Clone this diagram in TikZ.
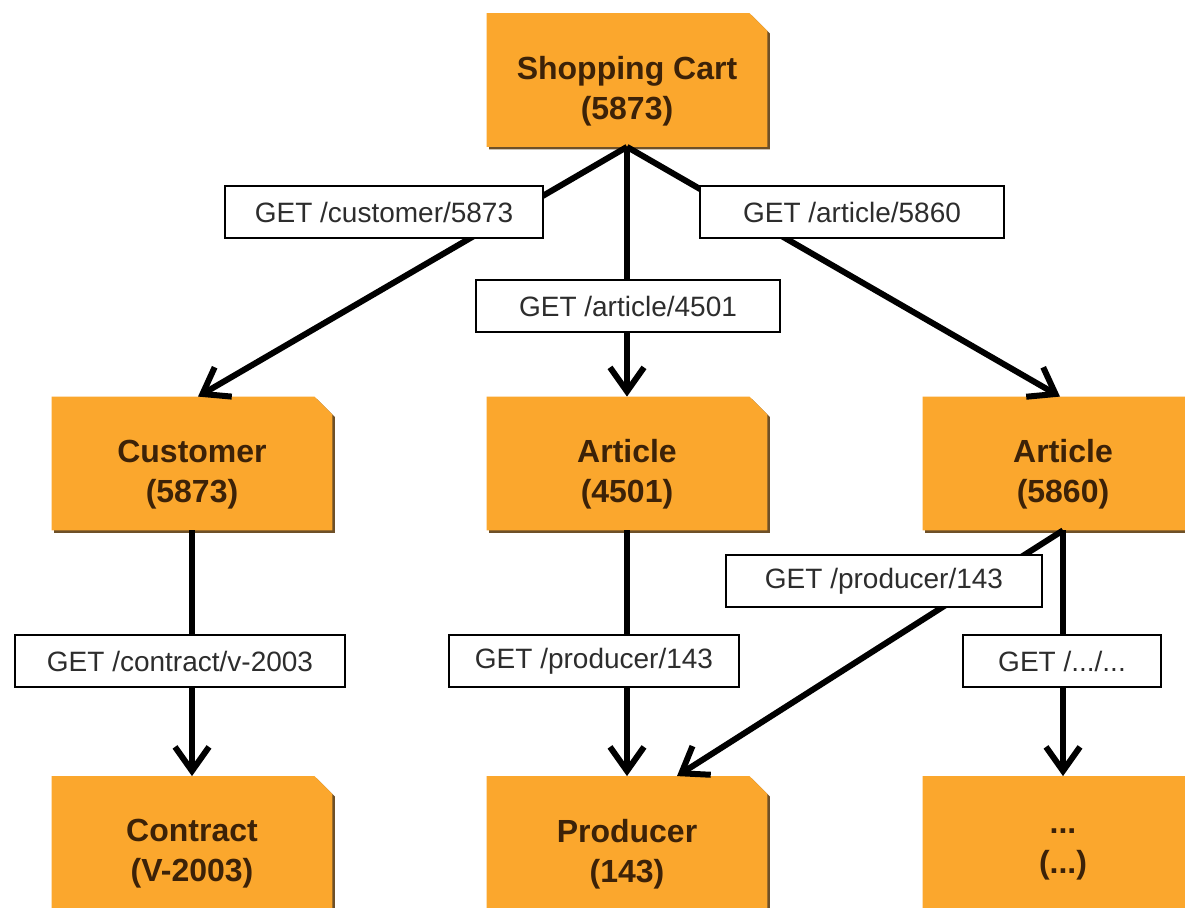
\documentclass[tikz,border=0pt]{standalone}
\usepackage{fontspec}
\setmainfont{Liberation Sans}
\usetikzlibrary{arrows.meta}
\definecolor{boxorange}{RGB}{251,167,45}
\definecolor{boxshade}{RGB}{110,80,40}
\definecolor{boxtext}{RGB}{60,34,8}
\definecolor{lbltext}{RGB}{45,45,45}
\tikzset{
  boxn/.style={inner sep=0pt, minimum width=140pt, minimum height=66.5pt},
  boxtxt/.style={inner sep=0pt, align=center, text=boxtext,
    font=\fontsize{16}{20}\selectfont\bfseries},
  lbl/.style={draw=black, line width=1pt, fill=white, inner sep=0pt,
    minimum height=26pt, text=lbltext, font=\fontsize{14}{16}\selectfont},
  conn/.style={line width=3pt, -{Straight Barb[length=12pt,width=17pt]}}
}
\begin{document}
\begin{tikzpicture}[x=0.5pt,y=-0.5pt]
\useasboundingbox (0,0) rectangle (1185,908);
\clip (0,0) rectangle (1185,908);
\fill[white] (0,0) rectangle (1185,908);

\node[boxn] (sc) at (627,80) {};
\node[boxn] (cust) at (192,463.5) {};
\node[boxn] (art1) at (627,463.5) {};
\node[boxn] (art2) at (1063,463.5) {};
\node[boxn] (contr) at (192,843) {};
\node[boxn] (prod) at (627,843) {};
\node[boxn] (dots) at (1063,843) {};

\foreach \n in {sc,cust,art1,art2,contr,prod,dots}{
  \fill[boxshade] ([shift={(1.2pt,-1.2pt)}]\n.south west) -- ([shift={(1.2pt,-1.2pt)}]\n.north west)
     -- ([shift={(-7.8pt,-1.2pt)}]\n.north east) -- ([shift={(1.2pt,-10.2pt)}]\n.north east)
     -- ([shift={(1.2pt,-1.2pt)}]\n.south east) -- cycle;
  \fill[boxorange] (\n.south west) -- (\n.north west) -- ([xshift=-9pt]\n.north east)
     -- ([yshift=-9pt]\n.north east) -- (\n.south east) -- cycle;
}

\node[boxtxt] (sct) at ([yshift=-5.5pt]sc.center) {Shopping Cart\\(5873)};
\node[boxtxt] (custt) at ([yshift=-5.5pt]cust.center) {Customer\\(5873)};
\node[boxtxt] (art1t) at ([yshift=-5.5pt]art1.center) {Article\\(4501)};
\node[boxtxt] (art2t) at ([yshift=-5.5pt]art2.center) {Article\\(5860)};
\node[boxtxt] (contrt) at ([yshift=-5.5pt]contr.center) {Contract\\(V-2003)};
\node[boxtxt] (prodt) at ([yshift=-5.5pt]prod.center) {Producer\\(143)};
\node[boxtxt] (dotst) at ([yshift=-5.5pt]dots.center) {...\\(...)};

\draw[conn] (sc.south) -- ([xshift=3pt]cust.north);
\draw[conn] (sc.south) -- (art1.north);
\draw[conn] (sc.south) -- ([xshift=-1.5pt]art2.north);
\draw[conn] (cust.south) -- (contr.north);
\draw[conn] (art1.south) -- (prod.north);
\draw[conn] (art2.south) -- (dots.north);
\draw[conn] (art2.south) -- ([xshift=25pt]prod.north);

\node[lbl, minimum width=159pt] (l1) at (384,212) {GET /customer/5873};
\node[lbl, minimum width=152pt] (l2) at (852,212) {GET /article/5860};
\node[lbl, minimum width=152pt] (l3) at (628,306) {GET /article/4501};
\node[lbl, minimum width=165pt] (l4) at (180,661) {GET /contract/v-2003};
\node[lbl, minimum width=145pt] (l5) at (594,661) {GET /producer/143};
\node[lbl, minimum width=158pt] (l6) at (884,581.5) {GET /producer/143};
\node[lbl, minimum width=99pt] (l7) at (1062,661.5) {GET /.../...};
\end{tikzpicture}
\end{document}
